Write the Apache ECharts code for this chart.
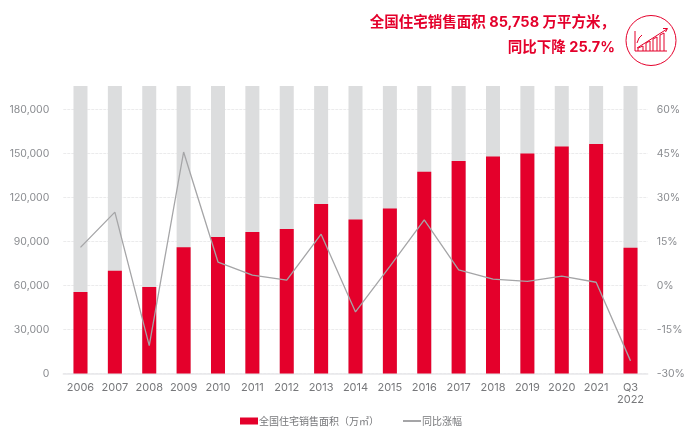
<!DOCTYPE html>
<html><head><meta charset="utf-8">
<style>html,body{margin:0;padding:0;background:#fff}#c{width:700px;height:434px}</style>
<script src="https://cdn.jsdelivr.net/npm/echarts@6/dist/echarts.min.js"></script></head>
<body><div id="c"></div>
<script>
const categories=['2006','2007','2008','2009','2010','2011','2012','2013','2014','2015','2016','2017','2018','2019','2020','2021','Q3\n2022'];
const salesArea=[55500,70000,59000,86000,93000,96500,98500,115500,105000,112500,137500,144800,148000,150000,154800,156500,85758];
const yoyGrowth=[13,25,-20.5,45.5,8,3.5,1.8,17.5,-9,6.5,22.4,5.3,2.2,1.4,3.2,1.1,-25.7];
const barName='全国住宅销售面积（万㎡）';
const lineName='同比涨幅';
const titleLines=['全国住宅销售面积 85,758 万平方米，','同比下降 25.7%'];
const latin='Inter, "Noto Sans CJK SC", sans-serif';
const red='#e4002b';
const chart=echarts.init(document.getElementById('c'),null,{renderer:'canvas'});
const stroke={stroke:red,lineWidth:1,fill:'none'};
chart.setOption({
 animation:false,
 textStyle:{fontFamily:latin},
 grid:{left:63.3,right:52.3,top:86,bottom:60.5},
 legend:{left:235,top:411,padding:5,itemGap:23,itemWidth:18,itemHeight:7,selectedMode:false,
  textStyle:{fontSize:10,color:'#77787b',fontFamily:'"Noto Sans CJK SC"',padding:[0,0,0,-4]},
  data:[{name:barName,icon:'rect'},{name:lineName,itemStyle:{opacity:0}}]},
 xAxis:{type:'category',data:categories,
  axisLine:{lineStyle:{color:'#e8e8ea',width:1.5}},axisTick:{show:false},
  axisLabel:{color:'#77787b',fontSize:11,margin:8,lineHeight:12,interval:0}},
 yAxis:[
  {type:'value',min:0,max:196000,interval:30000,
   axisLine:{show:false},axisTick:{show:false},
   axisLabel:{color:'#8a8c90',fontSize:10.5,margin:14,showMaxLabel:false,formatter:v=>v.toLocaleString('en-US')},
   splitLine:{showMaxLine:false,lineStyle:{color:'#ebebec',type:[3,1],width:1}}},
  {type:'value',min:-30,max:68,interval:15,position:'right',
   axisLine:{show:false},axisTick:{show:false},
   axisLabel:{color:'#8a8c90',fontSize:10.5,margin:9,showMaxLabel:false,formatter:'{value}%'},
   splitLine:{show:false}}
 ],
 series:[
  {name:barName,type:'bar',data:salesArea,barWidth:14,itemStyle:{color:red},
   showBackground:true,backgroundStyle:{color:'#dcddde'}},
  {name:lineName,type:'line',yAxisIndex:1,data:yoyGrowth,symbol:'none',z:5,
   lineStyle:{color:'#a5a5a7',width:1.3},itemStyle:{color:'#a5a5a7'}}
 ],
 graphic:[
  {type:'text',right:85,top:15,style:{text:titleLines[0],fill:red,font:'bold 14.5px '+latin,textAlign:'right'}},
  {type:'text',right:85,top:40,style:{text:titleLines[1],fill:red,font:'bold 14.5px '+latin,textAlign:'right'}},
  {type:'circle',shape:{cx:651,cy:40.5,r:25},style:{stroke:red,lineWidth:1,fill:'#fff'}},
  {type:'polyline',shape:{points:[[635,31],[635,51],[667,51]]},style:stroke},
  {type:'polyline',shape:{points:[[637,48],[645,43],[667,29]]},style:stroke},
  {type:'polyline',shape:{points:[[663,28.5],[667.5,28.5],[665.5,32]]},style:stroke},
  {type:'polyline',shape:{points:[[638,51],[638,48],[643,46],[643,51]]},style:stroke},
  {type:'polyline',shape:{points:[[646,51],[646,43],[650,41],[650,51]]},style:stroke},
  {type:'polyline',shape:{points:[[653,51],[653,39],[657,37],[657,51]]},style:stroke},
  {type:'polyline',shape:{points:[[660,51],[660,35],[664,33],[664,51]]},style:stroke},
  {type:'polyline',shape:{points:[[637,43],[639,38],[642,35]]},style:stroke}
 ]
});
</script></body></html>
